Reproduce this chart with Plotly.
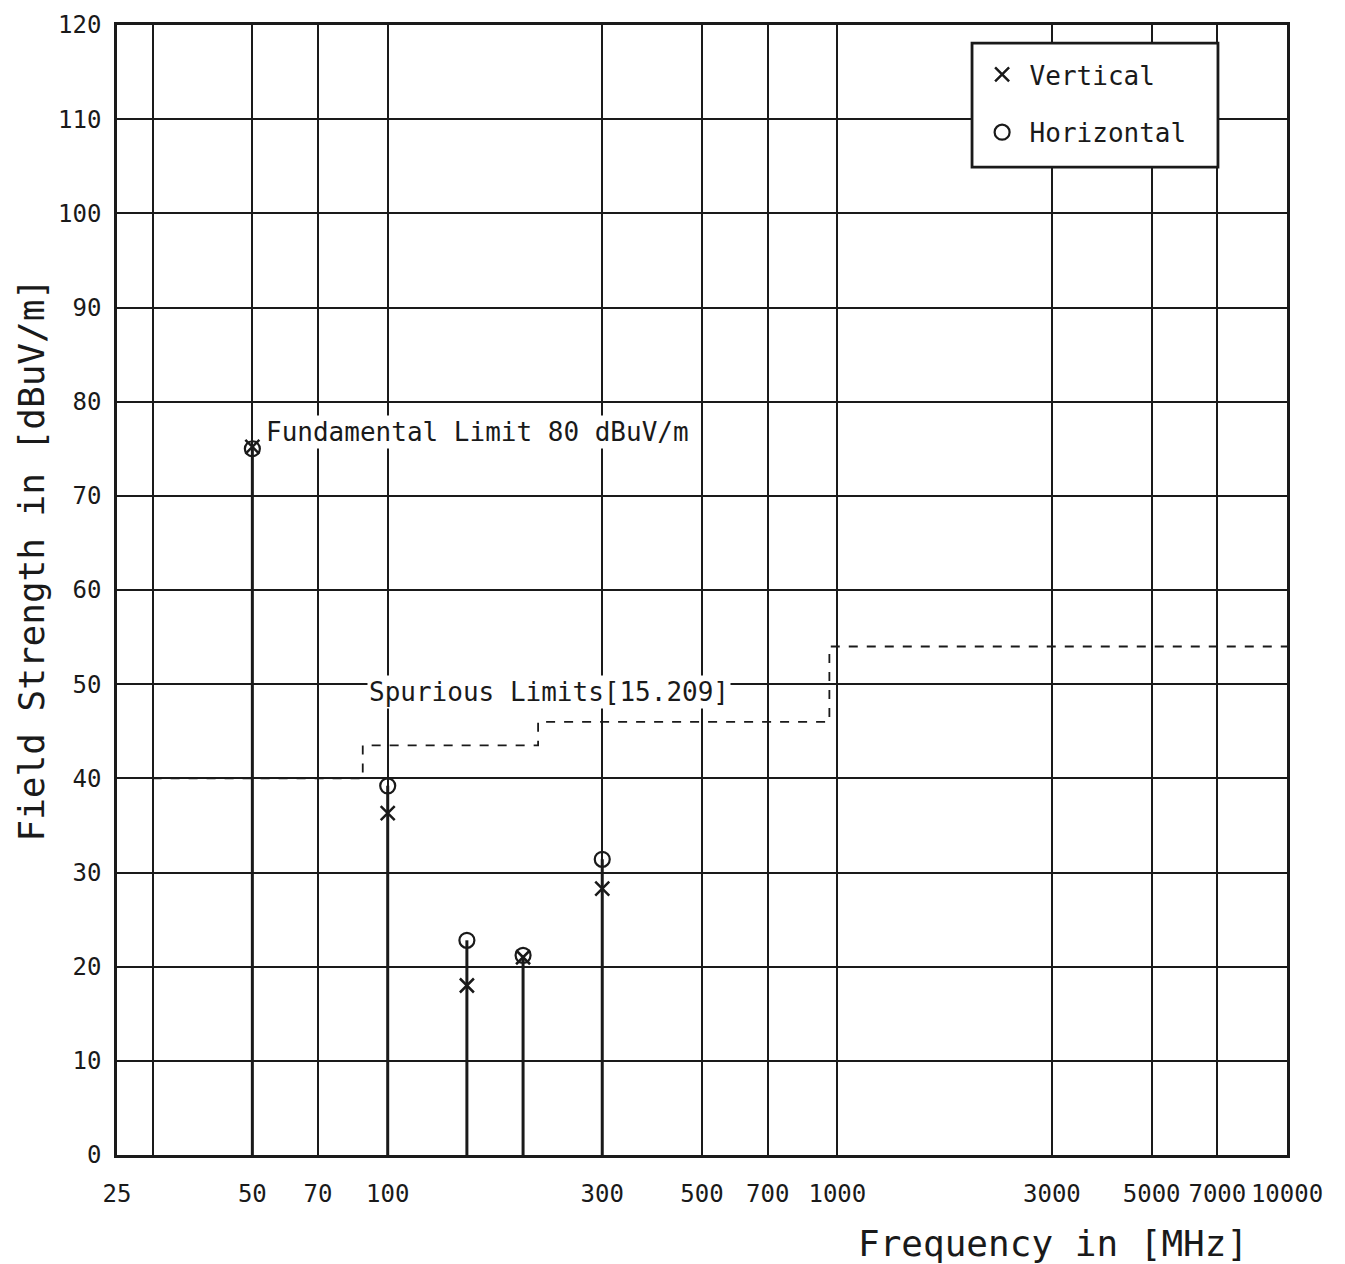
import math
import plotly.graph_objects as go

# ---- data ----
freqs = [50, 100, 150, 200, 300]
horizontal = [75.0, 39.2, 22.8, 21.2, 31.4]
vertical = [75.2, 36.3, 18.0, 21.0, 28.3]

limit_freqs = [30, 88, 216, 960, 10000]
limit_vals = [40, 43.5, 46, 54, 54]

x_tickvals = [25, 30, 50, 70, 100, 300, 500, 700, 1000, 3000, 5000, 7000, 10000]
x_ticktext = ["25", "", "50", "70", "100", "300", "500", "700", "1000", "3000", "5000", "7000", "10000"]
y_tickvals = list(range(0, 121, 10))

FONT = "DejaVu Sans Mono"
INK = "#1a1a1a"

fig = go.Figure()

# stems (from 0 up to the higher of the two readings)
sx, sy = [], []
for f, h, v in zip(freqs, horizontal, vertical):
    sx += [f, f, None]
    sy += [0, max(h, v), None]
fig.add_trace(go.Scatter(x=sx, y=sy, mode="lines", line=dict(color=INK, width=3),
                         showlegend=False, hoverinfo="skip"))

# spurious limit line
fig.add_trace(go.Scatter(x=limit_freqs, y=limit_vals, mode="lines",
                         line=dict(color=INK, width=1.8, dash="dash", shape="hv"),
                         showlegend=False, hoverinfo="skip"))

fig.add_trace(go.Scatter(x=freqs, y=vertical, mode="markers", name="Vertical",
                         marker=dict(symbol="x-thin-open", size=14, color=INK,
                                     line=dict(color=INK, width=2.5)),
                         legendgroup="v"))
fig.add_trace(go.Scatter(x=freqs, y=horizontal, mode="markers", name="Horizontal",
                         marker=dict(symbol="circle-open", size=15, color=INK,
                                     line=dict(color=INK, width=2.2)),
                         legendgroup="h"))

fig.add_annotation(x=math.log10(53), y=76.8, xref="x", yref="y",
                   text="Fundamental Limit 80 dBuV/m", showarrow=False,
                   xanchor="left", yanchor="middle", bgcolor="white",
                   font=dict(family=FONT, size=26, color=INK))
fig.add_annotation(x=math.log10(90), y=49.2, xref="x", yref="y",
                   text="Spurious Limits[15.209]", showarrow=False,
                   xanchor="left", yanchor="middle", bgcolor="white",
                   font=dict(family=FONT, size=26, color=INK))

# axis titles placed as annotations
fig.add_annotation(x=0.968, y=0, xref="paper", yref="paper", yshift=-88,
                   text="Frequency in [MHz]", showarrow=False,
                   xanchor="right", yanchor="middle",
                   font=dict(family=FONT, size=36, color=INK))
fig.add_annotation(x=0, y=0.527, xref="paper", yref="paper", xshift=-86,
                   text="Field Strength in [dBuV/m]", showarrow=False, textangle=-90,
                   xanchor="center", yanchor="middle",
                   font=dict(family=FONT, size=36, color=INK))

# legend frame
fig.add_shape(type="rect", xref="paper", yref="paper",
              x0=0.7308, x1=0.941, y0=0.8743, y1=0.984,
              line=dict(color=INK, width=2.8), fillcolor="white", layer="above")

fig.update_xaxes(type="log", range=[math.log10(25), 4],
                 tickvals=x_tickvals, ticktext=x_ticktext,
                 showgrid=True, gridcolor=INK, gridwidth=1.8,
                 showline=True, linecolor=INK, linewidth=2.5, mirror=True,
                 ticks="", ticklabelstandoff=15,
                 tickfont=dict(family=FONT, size=24, color=INK), zeroline=False)
fig.update_yaxes(range=[0, 120], tickvals=y_tickvals,
                 showgrid=True, gridcolor=INK, gridwidth=1.8,
                 showline=True, linecolor=INK, linewidth=2.5, mirror=True,
                 ticks="", ticklabelstandoff=8,
                 tickfont=dict(family=FONT, size=24, color=INK), zeroline=False)

fig.update_layout(
    width=1345, height=1264,
    margin=dict(l=117, r=58, t=25, b=109),
    paper_bgcolor="white", plot_bgcolor="white",
    font=dict(family=FONT, color=INK),
    legend=dict(x=0.733, y=0.977, xanchor="left", yanchor="top",
                bgcolor="rgba(0,0,0,0)", borderwidth=0,
                font=dict(family=FONT, size=26, color=INK),
                tracegroupgap=21, itemwidth=45),
)

fig.write_html("out.html", config={"displayModeBar": False},
               post_script="document.body.style.margin='0';")
